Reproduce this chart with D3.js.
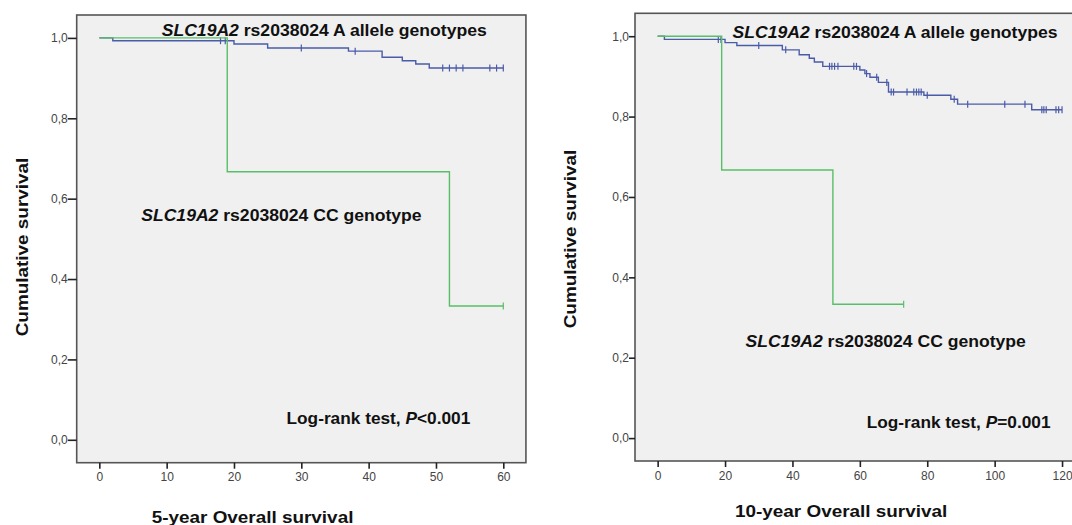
<!DOCTYPE html>
<html>
<head>
<meta charset="utf-8">
<script src="https://cdn.jsdelivr.net/npm/d3@7"></script>
<style>
  body { margin: 0; background: #fff; }
  svg { display: block; font-family: Arial, "Liberation Sans", sans-serif; }
  .axis path { display: none; }
  .axis line { stroke: #222; stroke-width: 1.6; }
  .axis text { font-size: 12px; fill: #444; }
  .label { font-weight: bold; fill: #111; }
</style>
</head>
<body>
<svg id="chart" width="1072" height="525"></svg>
<script>
// ---- data: Kaplan-Meier steps as [time, survival], censor times ----
const yTicks = [0, 0.2, 0.4, 0.6, 0.8, 1.0];

const fiveYearTicks = [0, 10, 20, 30, 40, 50, 60];
const fiveAllele = [[0, 1], [2, 0.993], [20, 0.985], [25, 0.975], [37, 0.967],
  [42, 0.952], [45, 0.943], [47, 0.935], [49, 0.925]];
const fiveAlleleCensored = [18, 18.7, 30, 38, 51, 52, 53, 54, 58, 59, 60];
const fiveCC = [[0, 1], [19, 0.667], [52, 0.333]];
const fiveCCCensored = [60];

const tenYearTicks = [0, 20, 40, 60, 80, 100, 120];
const tenAllele = [[0, 1], [2, 0.992], [20, 0.984], [23.5, 0.977], [37, 0.966],
  [42, 0.954], [45, 0.945], [46.5, 0.936], [49, 0.925], [60, 0.916], [61.5, 0.907],
  [63, 0.898], [65.5, 0.885], [68.5, 0.861], [79, 0.853], [87, 0.843], [89, 0.831],
  [111, 0.817]];
const tenAlleleCensored = [18, 18.8, 30, 38, 51, 51.7, 52.5, 53.5, 58.2, 59, 62, 65,
  68, 69.3, 70, 74, 76, 76.8, 77.5, 78.2, 80, 88, 92, 103, 109, 114, 114.6, 115.3,
  118.2, 119, 120];
const tenCC = [[0, 1], [19, 0.667], [52, 0.333]];
const tenCCCensored = [73];

const BLUE = '#4b5ba8';
const GREEN = '#58bf68';

const svg = d3.select('#chart');

// text with italic parts: parts = [[string, italic], ...]
// sx: the source image draws its text a bit wider than Arial
function label(g, parts, x, y, size, sx, rotate) {
  const t = g.append('text')
    .attr('class', 'label')
    .style('font-size', size + 'px')
    .attr('transform', `translate(${x},${y})` + (rotate ? ' rotate(-90)' : '') + ` scale(${sx},1)`)
    .attr('text-anchor', rotate ? 'middle' : 'start');
  parts.forEach(([s, it]) => t.append('tspan').text(s).style('font-style', it ? 'italic' : 'normal'));
  return t;
}

function survivalAt(steps, t) {
  let s = steps[0][1];
  steps.forEach(d => { if (d[0] <= t) s = d[1]; });
  return s;
}

function panel(cfg) {
  const g = svg.append('g');
  const pad = 0.056;
  const x = d3.scaleLinear()
    .domain([-pad * cfg.xMax, cfg.xMax * (1 + pad)])
    .range([cfg.left, cfg.left + cfg.xUnit * cfg.xMax * (1 + 2 * pad)]);
  const y = d3.scaleLinear().domain([-0.057, 1.057]).range([cfg.bottom, cfg.top]);

  g.append('rect')
    .attr('x', x.range()[0]).attr('y', cfg.top)
    .attr('width', x.range()[1] - x.range()[0])
    .attr('height', cfg.bottom - cfg.top)
    .attr('fill', '#f0f0f0')
    .attr('stroke', '#555')
    .attr('stroke-width', 1.6);

  g.append('g')
    .attr('class', 'axis')
    .attr('transform', `translate(${cfg.left},0)`)
    .call(d3.axisLeft(y).tickValues(yTicks).tickSize(cfg.yTickSize).tickPadding(0)
      .tickFormat(d => d3.format('.1f')(d).replace('.', ',')));

  g.append('g')
    .attr('class', 'axis')
    .attr('transform', `translate(0,${cfg.bottom})`)
    .call(d3.axisBottom(x).tickValues(cfg.xTicks).tickSize(6).tickPadding(4));

  const line = d3.line().curve(d3.curveStepAfter).x(d => x(d[0])).y(d => y(d[1]));

  cfg.series.forEach(s => {
    const end = d3.max(s.censored);
    const pts = s.steps.concat([[end, s.steps[s.steps.length - 1][1]]]);
    g.append('path')
      .attr('d', line(pts))
      .attr('fill', 'none')
      .attr('stroke', s.color)
      .attr('stroke-width', 1.4);
    g.selectAll(null)
      .data(s.censored)
      .join('line')
      .attr('x1', d => x(d)).attr('x2', d => x(d))
      .attr('y1', d => y(survivalAt(s.steps, d)) - 3.5)
      .attr('y2', d => y(survivalAt(s.steps, d)) + 3.5)
      .attr('stroke', s.color)
      .attr('stroke-width', 1.2);
  });

  cfg.texts.forEach(t => label(g, t.parts, t.x, t.y, t.size, t.sx, t.rotate));
}

panel({
  left: 76.7, top: 15, bottom: 462.7, xUnit: 6.733, xMax: 60, xTicks: fiveYearTicks, yTickSize: 9,
  series: [
    { steps: fiveAllele, censored: fiveAlleleCensored, color: BLUE },
    { steps: fiveCC, censored: fiveCCCensored, color: GREEN }
  ],
  texts: [
    { parts: [['SLC19A2', true], [' rs2038024 A allele genotypes', false]], x: 161.7, y: 36, size: 16, sx: 1.1 },
    { parts: [['SLC19A2', true], [' rs2038024 CC genotype', false]], x: 141.2, y: 221, size: 16, sx: 1.1 },
    { parts: [['Log-rank test, ', false], ['P', true], ['<0.001', false]], x: 286.5, y: 424, size: 16, sx: 1.08 },
    { parts: [['5-year Overall survival', false]], x: 151.7, y: 522.5, size: 16.3, sx: 1.16 },
    { parts: [['Cumulative survival', false]], x: 28, y: 247, size: 16.3, sx: 1.16, rotate: true }
  ]
});

panel({
  left: 635, top: 13.3, bottom: 461, xUnit: 3.37, xMax: 120, xTicks: tenYearTicks, yTickSize: 6,
  series: [
    { steps: tenAllele, censored: tenAlleleCensored, color: BLUE },
    { steps: tenCC, censored: tenCCCensored, color: GREEN }
  ],
  texts: [
    { parts: [['SLC19A2', true], [' rs2038024 A allele genotypes', false]], x: 732.5, y: 37.5, size: 16, sx: 1.1 },
    { parts: [['SLC19A2', true], [' rs2038024 CC genotype', false]], x: 745.5, y: 347, size: 16, sx: 1.1 },
    { parts: [['Log-rank test, ', false], ['P', true], ['=0.001', false]], x: 866.7, y: 428, size: 16, sx: 1.08 },
    { parts: [['10-year Overall survival', false]], x: 735, y: 517, size: 16.3, sx: 1.16 },
    { parts: [['Cumulative survival', false]], x: 576, y: 239, size: 16.3, sx: 1.16, rotate: true }
  ]
});
</script>
</body>
</html>
